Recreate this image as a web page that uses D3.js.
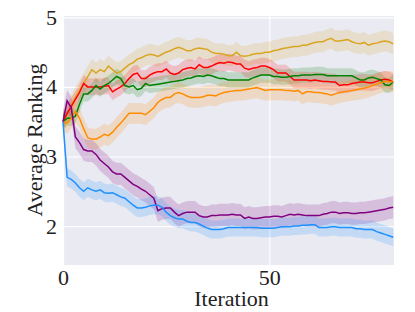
<!DOCTYPE html>
<html>
<head>
<meta charset="utf-8">
<script src="https://cdn.jsdelivr.net/npm/d3@7"></script>
<style>
  body { margin: 0; background: #fff; }
  svg text { font-family: "Times New Roman", Times, "Liberation Serif", serif !important; fill: #222; }
</style>
</head>
<body>
<div id="chart"></div>
<script>
// values, one per iteration (0..80)
var gold = [3.5,3.6,3.75,3.85,3.95,4.05,4.15,4.25,4.2,4.25,4.22,4.3,4.25,4.2,4.22,4.27,4.32,4.35,4.4,4.42,
  4.45,4.47,4.46,4.44,4.47,4.5,4.52,4.55,4.57,4.55,4.52,4.52,4.55,4.56,4.55,4.54,4.5,4.48,4.48,4.47,
  4.45,4.45,4.5,4.45,4.44,4.45,4.47,4.48,4.48,4.5,4.5,4.52,4.53,4.55,4.56,4.57,4.58,4.58,4.6,4.6,
  4.62,4.64,4.65,4.65,4.68,4.7,4.66,4.66,4.67,4.68,4.65,4.63,4.62,4.64,4.6,4.62,4.63,4.65,4.66,4.65,4.62];
var red = [3.5,3.62,3.72,3.82,3.92,4.05,4.0,4.0,4.0,4.0,4.01,4.02,3.93,3.97,4.0,4.05,4.12,4.18,4.2,4.12,
  4.12,4.17,4.2,4.22,4.22,4.26,4.2,4.18,4.2,4.25,4.27,4.28,4.26,4.32,4.28,4.28,4.3,4.33,4.35,4.34,
  4.36,4.35,4.33,4.33,4.27,4.25,4.27,4.28,4.3,4.3,4.28,4.25,4.2,4.2,4.2,4.15,4.1,4.1,4.1,4.1,
  4.09,4.1,4.09,4.08,4.08,4.07,4.07,4.02,4.03,4.03,4.05,4.06,4.07,4.07,4.06,4.06,4.08,4.1,4.11,4.1,4.07];
var green = [3.5,3.55,3.55,3.58,3.75,3.9,3.9,3.95,4.02,3.97,4.02,4.05,4.1,4.15,4.12,4.02,4.0,4.02,3.96,3.98,
  4.05,4.02,4.03,4.04,4.05,4.06,4.07,4.08,4.09,4.1,4.12,4.13,4.15,4.16,4.15,4.17,4.16,4.14,4.12,4.12,
  4.1,4.1,4.1,4.1,4.1,4.1,4.13,4.15,4.17,4.17,4.17,4.15,4.15,4.14,4.14,4.15,4.16,4.16,4.17,4.17,
  4.17,4.18,4.18,4.18,4.16,4.16,4.16,4.16,4.16,4.16,4.16,4.13,4.1,4.1,4.13,4.14,4.12,4.1,4.03,4.02,4.07];
var orange = [3.5,3.48,3.55,3.65,3.55,3.4,3.27,3.25,3.25,3.28,3.32,3.3,3.35,3.42,3.48,3.55,3.62,3.62,3.62,3.62,
  3.6,3.65,3.7,3.78,3.82,3.85,3.85,3.9,3.92,3.9,3.87,3.85,3.85,3.85,3.86,3.88,3.88,3.87,3.9,3.92,
  3.93,3.94,3.95,3.95,3.96,3.97,3.98,3.99,3.97,3.95,3.96,3.96,3.96,3.96,3.95,3.95,3.94,3.95,3.9,3.93,
  3.93,3.92,3.92,3.91,3.9,3.88,3.9,3.92,3.93,3.94,3.95,3.96,3.97,3.98,4.0,4.02,4.04,4.06,4.08,4.08,4.07];
var purple = [3.5,3.8,3.7,3.28,3.2,3.1,3.08,3.08,3.03,2.95,2.9,2.85,2.78,2.75,2.75,2.7,2.65,2.6,2.57,2.53,
  2.5,2.45,2.4,2.22,2.25,2.26,2.26,2.2,2.15,2.18,2.2,2.2,2.2,2.15,2.13,2.13,2.15,2.15,2.16,2.16,
  2.16,2.17,2.16,2.16,2.11,2.13,2.11,2.11,2.12,2.13,2.13,2.14,2.14,2.13,2.15,2.17,2.16,2.17,2.16,2.15,
  2.15,2.15,2.15,2.17,2.18,2.2,2.2,2.18,2.19,2.19,2.18,2.18,2.19,2.19,2.2,2.21,2.22,2.23,2.24,2.26,2.27];
var blue = [3.5,2.7,2.67,2.62,2.55,2.5,2.55,2.52,2.5,2.52,2.48,2.47,2.48,2.45,2.42,2.4,2.35,2.3,2.26,2.26,
  2.27,2.29,2.3,2.3,2.27,2.2,2.15,2.12,2.1,2.1,2.07,2.05,2.05,2.03,2.0,1.97,1.95,1.95,1.95,1.96,
  1.98,1.98,1.98,1.98,1.98,1.98,1.98,1.98,1.97,1.97,1.97,1.97,1.98,1.99,1.99,1.99,2.0,2.0,2.01,2.01,
  2.02,2.02,1.98,1.98,1.98,1.99,1.99,1.98,1.98,1.98,1.98,1.96,1.96,1.95,1.95,1.95,1.92,1.9,1.88,1.86,1.84];

// half width of the shaded band for each series
var seriesNames = ["gold", "red", "green", "orange", "purple", "blue"];
var seriesValues = [gold, red, green, orange, purple, blue];
var spread = [0.15, 0.12, 0.11, 0.15, 0.16, 0.13];
var colors = ["#DAA520", "#FF0000", "#008000", "#FF8C00", "#800080", "#1E90FF"];

var xTicks = [0, 50];
var yTicks = [2, 3, 4, 5];

// set the dimensions and margins of the graph
var margin = { top: 16, right: 21, bottom: 47, left: 63 },
  width = 415 - margin.left - margin.right,
  height = 312 - margin.top - margin.bottom;

var svg = d3.select("#chart")
  .append("svg")
  .attr("width", 415)
  .attr("height", 312)
  .append("g")
  .attr("transform", "translate(" + margin.left + "," + margin.top + ")");

var x = d3.scaleLinear().domain([0, 80.2]).range([0, width]);
var y = d3.scaleLinear().domain([1.44, 5.02]).range([height, 0]);

// background
svg.append("rect")
  .attr("width", width)
  .attr("height", height)
  .attr("fill", "#EAEAF2");

// grid
svg.append("g")
  .attr("class", "grid")
  .call(d3.axisLeft(y).tickValues(yTicks).tickSize(-width).tickFormat(""))
  .call(function (g) { g.select(".domain").remove(); })
  .selectAll("line").attr("stroke", "#fff").attr("stroke-width", 1.2);
svg.append("g")
  .attr("class", "grid")
  .attr("transform", "translate(0," + height + ")")
  .call(d3.axisBottom(x).tickValues(xTicks).tickSize(-height).tickFormat(""))
  .call(function (g) { g.select(".domain").remove(); })
  .selectAll("line").attr("stroke", "#fff").attr("stroke-width", 1.2);

// bands first, then lines on top
var area = d3.area()
  .x(function (d, i) { return x(i); })
  .y0(function (d) { return y(d.v - d.s); })
  .y1(function (d) { return y(d.v + d.s); });
var line = d3.line()
  .x(function (d, i) { return x(i); })
  .y(function (d) { return y(d); });

seriesValues.forEach(function (vals, k) {
  svg.append("path")
    .datum(vals.map(function (v) { return { v: v, s: spread[k] }; }))
    .attr("class", "band " + seriesNames[k])
    .attr("d", area)
    .attr("fill", colors[k])
    .attr("fill-opacity", 0.18);
});
seriesValues.forEach(function (vals, k) {
  svg.append("path")
    .datum(vals)
    .attr("class", "line " + seriesNames[k])
    .attr("d", line)
    .attr("fill", "none")
    .attr("stroke", colors[k])
    .attr("stroke-width", 1.5);
});

// tick labels
var xAxis = svg.append("g")
  .attr("transform", "translate(0," + height + ")")
  .call(d3.axisBottom(x).tickValues(xTicks).tickSize(0).tickPadding(4).tickFormat(d3.format("d")));
xAxis.attr("font-family", null);
xAxis.select(".domain").remove();
xAxis.selectAll("text").style("font-size", "22px").attr("fill", "#222");

var yAxis = svg.append("g")
  .call(d3.axisLeft(y).tickValues(yTicks).tickSize(0).tickPadding(6).tickFormat(d3.format("d")));
yAxis.attr("font-family", null);
yAxis.select(".domain").remove();
yAxis.selectAll("text").style("font-size", "22px").attr("fill", "#222");

// axis labels
svg.append("text")
  .attr("x", width / 2 + 3)
  .attr("y", height + 41)
  .style("text-anchor", "middle")
  .style("font-size", "22px")
  .text("Iteration");

svg.append("text")
  .attr("transform", "rotate(-90)")
  .attr("x", -(124))
  .attr("y", 42 - margin.left)
  .style("text-anchor", "middle")
  .style("font-size", "22px")
  .text("Average Ranking");
</script>
</body>
</html>
